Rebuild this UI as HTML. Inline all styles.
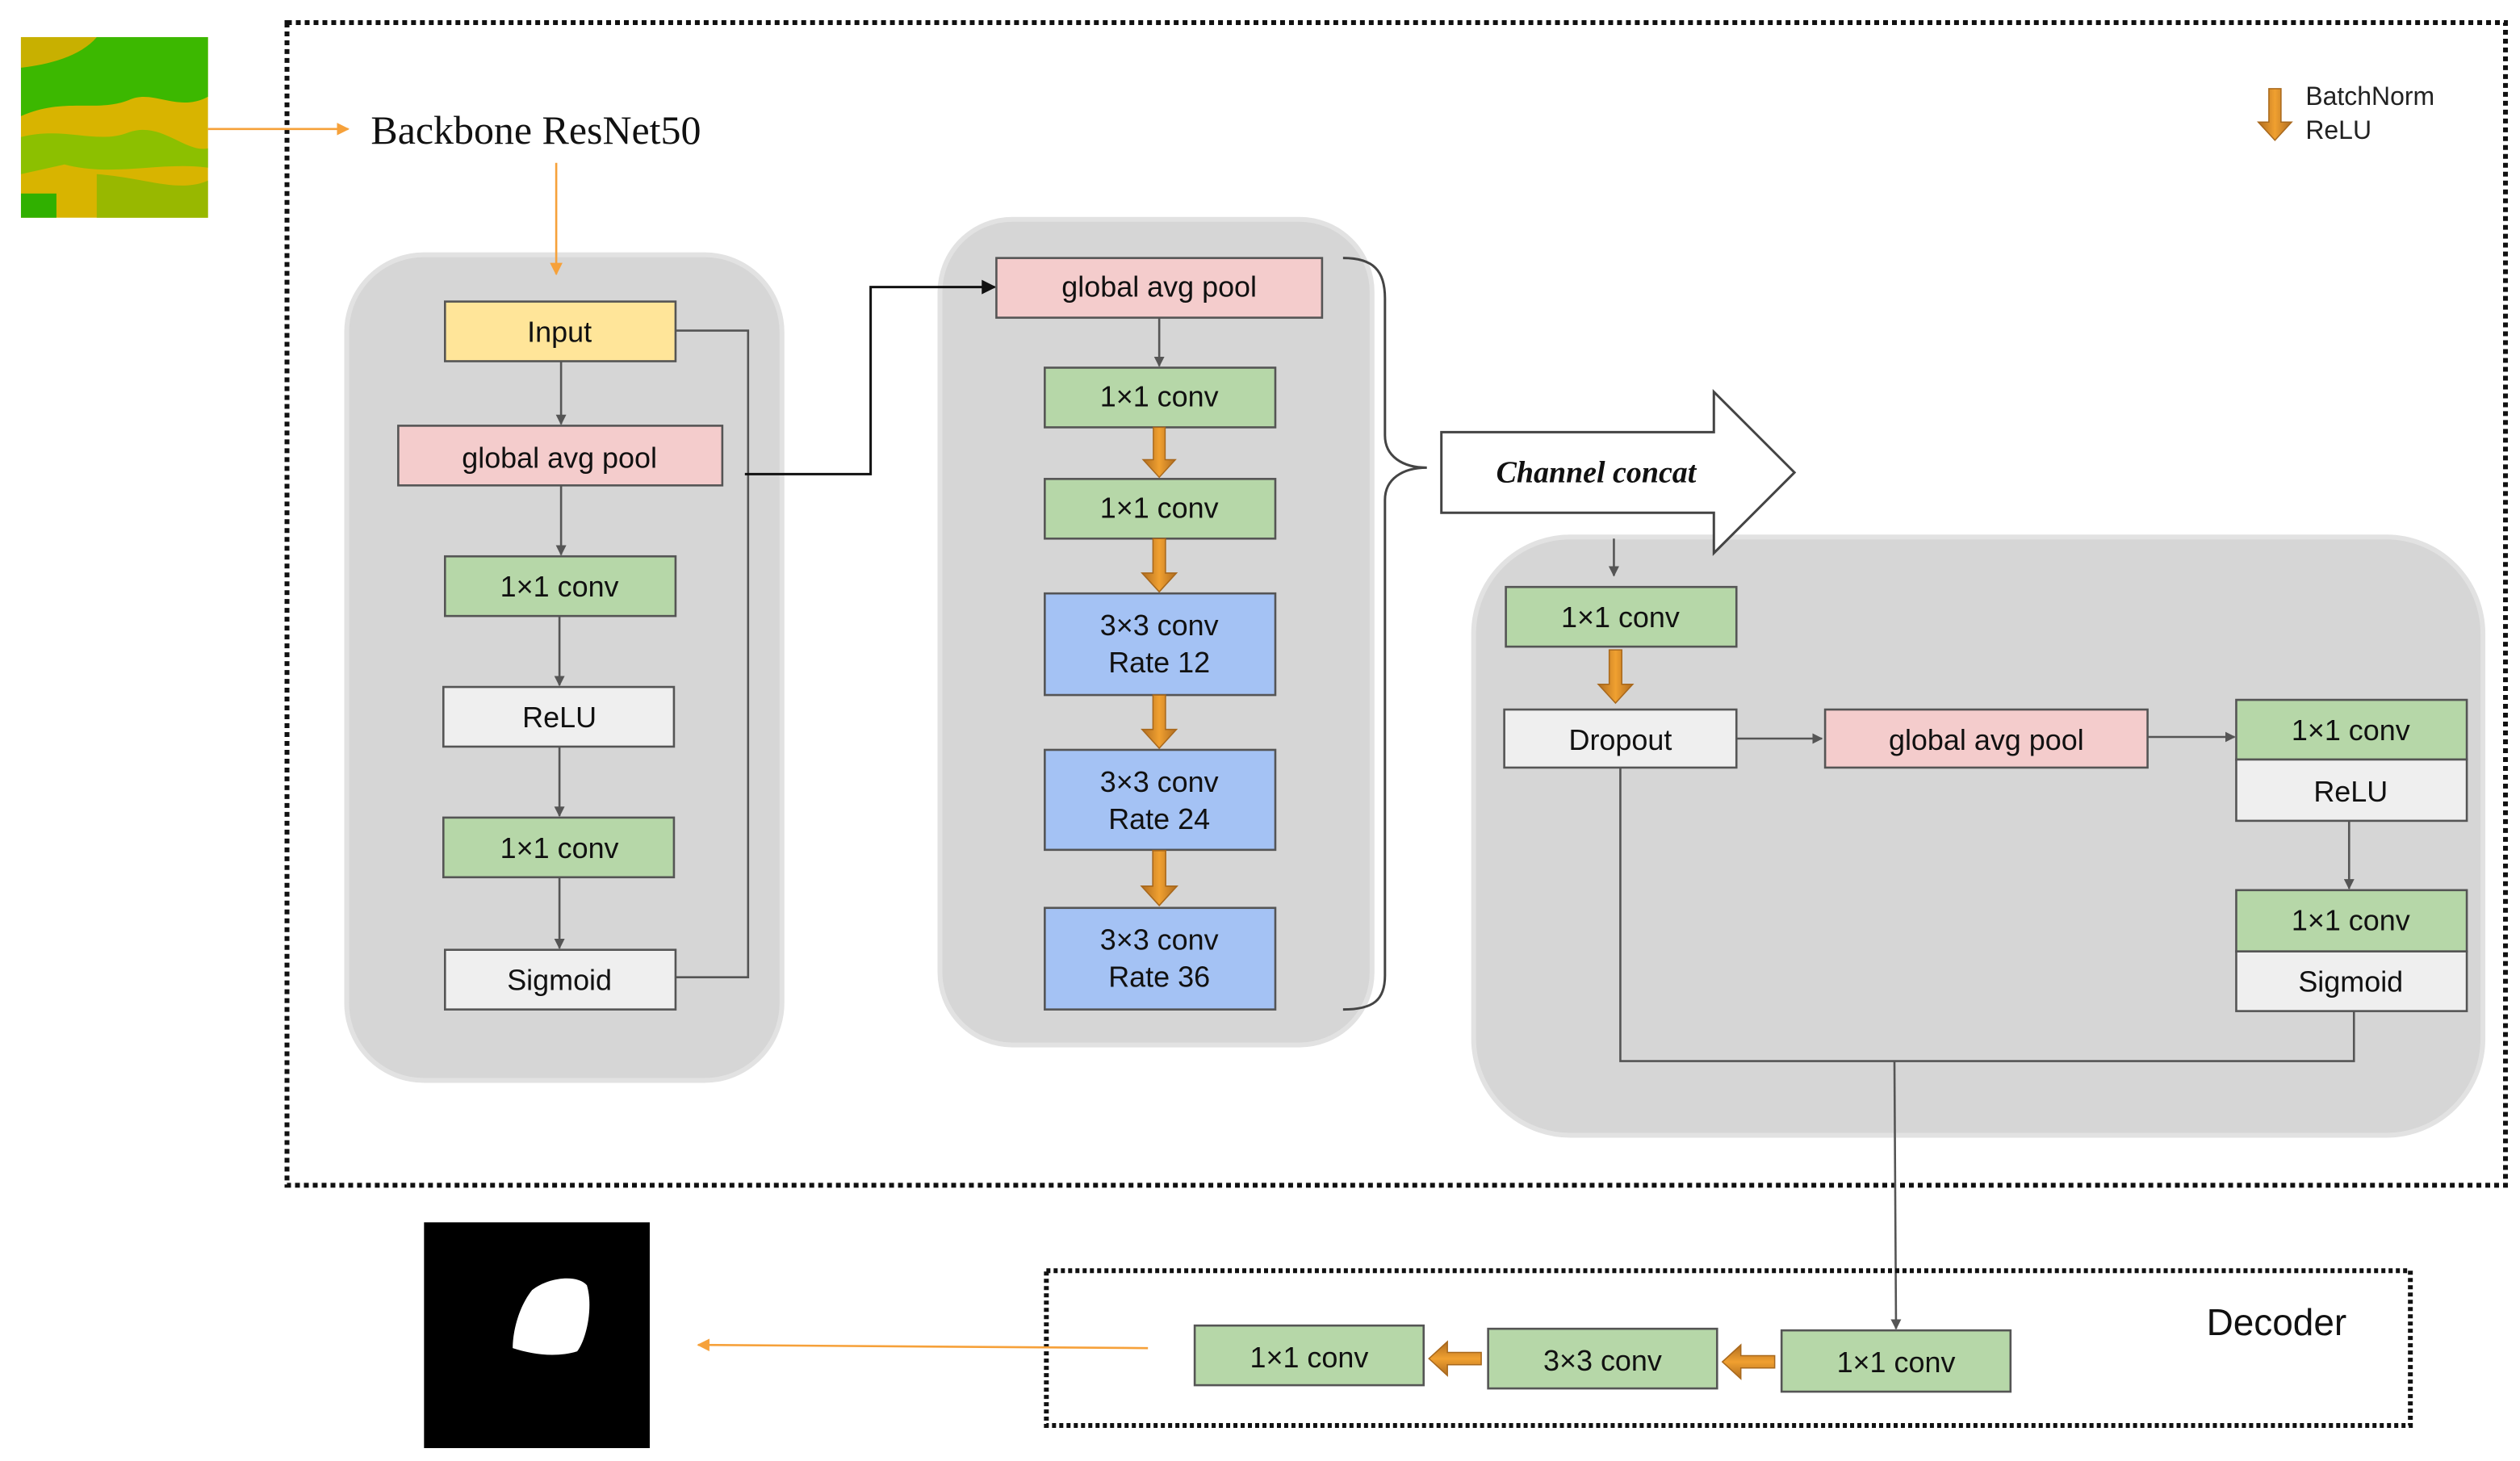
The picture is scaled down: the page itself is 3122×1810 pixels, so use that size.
<!DOCTYPE html>
<html><head><style>html,body{margin:0;padding:0;background:#fff}svg{display:block}</style></head>
<body>
<svg width="3122" height="1810" viewBox="0 0 1563 906" preserveAspectRatio="none" xmlns="http://www.w3.org/2000/svg" font-family="Liberation Sans, Arial, sans-serif">
<defs>
<marker id="ag" viewBox="0 0 10 10" refX="9" refY="5" markerWidth="5" markerHeight="5" orient="auto"><path d="M0,0 L10,5 L0,10 z" fill="#555"/></marker>
<marker id="ab" viewBox="0 0 10 10" refX="9" refY="5" markerWidth="6" markerHeight="6" orient="auto"><path d="M0,0 L10,5 L0,10 z" fill="#111"/></marker>
<marker id="ao" viewBox="0 0 10 10" refX="9" refY="5" markerWidth="6" markerHeight="6" orient="auto"><path d="M0,0 L10,5 L0,10 z" fill="#f6a13a"/></marker>
<linearGradient id="og" x1="0" x2="1"><stop offset="0" stop-color="#b06d20"/><stop offset="0.5" stop-color="#f0a030"/><stop offset="1" stop-color="#b06d20"/></linearGradient>
<linearGradient id="ogv" x1="0" x2="0" y1="0" y2="1"><stop offset="0" stop-color="#b06d20"/><stop offset="0.5" stop-color="#f0a030"/><stop offset="1" stop-color="#b06d20"/></linearGradient>
<symbol id="od" viewBox="0 0 22 34" overflow="visible"><path d="M7,0 H15 V22 H22 L11,34 L0,22 H7 Z" fill="url(#og)" stroke="#a8681c" stroke-width="0.8"/></symbol>
<symbol id="ol" viewBox="0 0 34 22" overflow="visible"><path d="M34,7 V15 H12 V22 L0,11 L12,0 V7 Z" fill="url(#ogv)" stroke="#a8681c" stroke-width="0.8"/></symbol>
</defs>

<!-- input image -->
<rect x="13" y="23" width="116" height="112" fill="#d8b400"/>
<path d="M13,23 H129 V60 C110,70 95,55 80,62 C60,70 40,60 13,72 Z" fill="#3cb800"/>
<path d="M13,85 C40,78 60,90 80,82 C100,75 115,95 129,92 V104 C100,100 70,110 40,102 L13,108 Z" fill="#8cc000"/>
<path d="M13,23 H60 C50,35 30,40 13,42 Z" fill="#c8b000"/>
<path d="M60,108 C90,110 110,120 129,112 V135 H60 Z" fill="#98b800"/>
<path d="M13,120 H35 V135 H13 Z" fill="#30b000"/>

<!-- outer dotted frame -->
<rect x="178" y="14" width="1376" height="721" fill="none" stroke="#111" stroke-width="3" stroke-dasharray="3,2.5"/>

<!-- panels (drawn first) -->
<rect x="215" y="158" width="270" height="512" rx="48" fill="#d6d6d6" stroke="#e2e2e2" stroke-width="3"/>
<rect x="583" y="136" width="268" height="512" rx="45" fill="#d6d6d6" stroke="#e2e2e2" stroke-width="3"/>
<rect x="914" y="333" width="626" height="371" rx="60" fill="#d6d6d6" stroke="#e2e2e2" stroke-width="3"/>

<line x1="129" y1="80" x2="216" y2="80" stroke="#f6a13a" stroke-width="1.3" marker-end="url(#ao)"/>
<text x="230" y="89" font-family="Liberation Serif, serif" font-size="25" fill="#111">Backbone ResNet50</text>
<line x1="345" y1="101" x2="345" y2="170" stroke="#f6a13a" stroke-width="1.3" marker-end="url(#ao)"/>

<!-- legend -->
<use href="#od" x="1400" y="55" width="22" height="32"/>
<text x="1430" y="65" font-size="16" fill="#222">BatchNorm</text>
<text x="1430" y="86" font-size="16" fill="#222">ReLU</text>

<!-- left panel contents -->
<g stroke="#555" stroke-width="1.3">
<rect x="276" y="187" width="143" height="37" fill="#ffe599"/>
<rect x="247" y="264" width="201" height="37" fill="#f4cccc"/>
<rect x="276" y="345" width="143" height="37" fill="#b6d7a8"/>
<rect x="275" y="426" width="143" height="37" fill="#efefef"/>
<rect x="275" y="507" width="143" height="37" fill="#b6d7a8"/>
<rect x="276" y="589" width="143" height="37" fill="#efefef"/>
</g>
<g font-size="18" text-anchor="middle" fill="#111">
<text x="347" y="212">Input</text>
<text x="347" y="290">global avg pool</text>
<text x="347" y="370">1×1 conv</text>
<text x="347" y="451">ReLU</text>
<text x="347" y="532">1×1 conv</text>
<text x="347" y="614">Sigmoid</text>
</g>
<g stroke="#555" stroke-width="1.3" fill="none">
<line x1="348" y1="224" x2="348" y2="263" marker-end="url(#ag)"/>
<line x1="348" y1="301" x2="348" y2="344" marker-end="url(#ag)"/>
<line x1="347" y1="382" x2="347" y2="425" marker-end="url(#ag)"/>
<line x1="347" y1="463" x2="347" y2="506" marker-end="url(#ag)"/>
<line x1="347" y1="544" x2="347" y2="588" marker-end="url(#ag)"/>
<polyline points="419,205 464,205 464,606 419,606"/>
</g>
<polyline points="462,294 540,294 540,178 617,178" fill="none" stroke="#111" stroke-width="1.5" marker-end="url(#ab)"/>

<!-- middle panel contents -->
<g stroke="#555" stroke-width="1.3">
<rect x="618" y="160" width="202" height="37" fill="#f4cccc"/>
<rect x="648" y="228" width="143" height="37" fill="#b6d7a8"/>
<rect x="648" y="297" width="143" height="37" fill="#b6d7a8"/>
<rect x="648" y="368" width="143" height="63" fill="#a4c2f4"/>
<rect x="648" y="465" width="143" height="62" fill="#a4c2f4"/>
<rect x="648" y="563" width="143" height="63" fill="#a4c2f4"/>
</g>
<g font-size="18" text-anchor="middle" fill="#111">
<text x="719" y="184">global avg pool</text>
<text x="719" y="252">1×1 conv</text>
<text x="719" y="321">1×1 conv</text>
<text x="719" y="394">3×3 conv</text><text x="719" y="417">Rate 12</text>
<text x="719" y="491">3×3 conv</text><text x="719" y="514">Rate 24</text>
<text x="719" y="589">3×3 conv</text><text x="719" y="612">Rate 36</text>
</g>
<line x1="719" y1="197" x2="719" y2="227" stroke="#555" stroke-width="1.3" marker-end="url(#ag)"/>
<use href="#od" x="708" y="265" width="22" height="31"/>
<use href="#od" x="708" y="334" width="22" height="33"/>
<use href="#od" x="708" y="431" width="22" height="33"/>
<use href="#od" x="708" y="527" width="22" height="35"/>

<!-- brace -->
<path d="M833,160 C852,160 859,168 859,185 V270 C859,283 870,290 885,290 C870,290 859,297 859,310 V605 C859,620 852,626 833,626" fill="none" stroke="#444" stroke-width="1.5"/>

<!-- channel concat arrow -->
<path d="M894,268 H1063 V243 L1113,293 L1063,343 V318 H894 Z" fill="#fff" stroke="#444" stroke-width="1.5"/>
<text x="990" y="299" font-family="Liberation Serif, serif" font-style="italic" font-weight="bold" font-size="19" text-anchor="middle" fill="#111">Channel concat</text>

<line x1="1001" y1="334" x2="1001" y2="357" stroke="#555" stroke-width="1.3" marker-end="url(#ag)"/>
<g stroke="#555" stroke-width="1.3">
<rect x="934" y="364" width="143" height="37" fill="#b6d7a8"/>
<rect x="933" y="440" width="144" height="36" fill="#efefef"/>
<rect x="1132" y="440" width="200" height="36" fill="#f4cccc"/>
<rect x="1387" y="434" width="143" height="37" fill="#b6d7a8"/>
<rect x="1387" y="471" width="143" height="38" fill="#efefef"/>
<rect x="1387" y="552" width="143" height="38" fill="#b6d7a8"/>
<rect x="1387" y="590" width="143" height="37" fill="#efefef"/>
</g>
<g font-size="18" text-anchor="middle" fill="#111">
<text x="1005" y="389">1×1 conv</text>
<text x="1005" y="465">Dropout</text>
<text x="1232" y="465">global avg pool</text>
<text x="1458" y="459">1×1 conv</text>
<text x="1458" y="497">ReLU</text>
<text x="1458" y="577">1×1 conv</text>
<text x="1458" y="615">Sigmoid</text>
</g>
<use href="#od" x="991" y="403" width="22" height="33"/>
<g stroke="#555" stroke-width="1.3" fill="none">
<line x1="1077" y1="458" x2="1130" y2="458" marker-end="url(#ag)"/>
<line x1="1332" y1="457" x2="1386" y2="457" marker-end="url(#ag)"/>
<line x1="1457" y1="509" x2="1457" y2="551" marker-end="url(#ag)"/>
<polyline points="1005,476 1005,658 1460,658 1460,627"/>
<line x1="1175" y1="658" x2="1176" y2="824" marker-end="url(#ag)"/>
</g>

<!-- decoder -->
<rect x="649" y="788" width="846" height="96" fill="none" stroke="#111" stroke-width="3" stroke-dasharray="2.5,2"/>
<text x="1412" y="828" font-size="23" text-anchor="middle" fill="#111">Decoder</text>
<g stroke="#555" stroke-width="1.3">
<rect x="741" y="822" width="142" height="37" fill="#b6d7a8"/>
<rect x="923" y="824" width="142" height="37" fill="#b6d7a8"/>
<rect x="1105" y="825" width="142" height="38" fill="#b6d7a8"/>
</g>
<g font-size="18" text-anchor="middle" fill="#111">
<text x="812" y="848">1×1 conv</text>
<text x="994" y="850">3×3 conv</text>
<text x="1176" y="851">1×1 conv</text>
</g>
<use href="#ol" x="886" y="832" width="33" height="21"/>
<use href="#ol" x="1068" y="834" width="33" height="21"/>
<line x1="712" y1="836" x2="433" y2="834" stroke="#f6a13a" stroke-width="1.3" marker-end="url(#ao)"/>

<!-- mask -->
<rect x="263" y="758" width="140" height="140" fill="#000"/>
<path d="M330,800 C340,792 358,790 364,797 C368,810 364,830 358,838 C345,842 330,840 318,836 C318,825 322,810 330,800 Z" fill="#fff"/>
</svg>
</body></html>
